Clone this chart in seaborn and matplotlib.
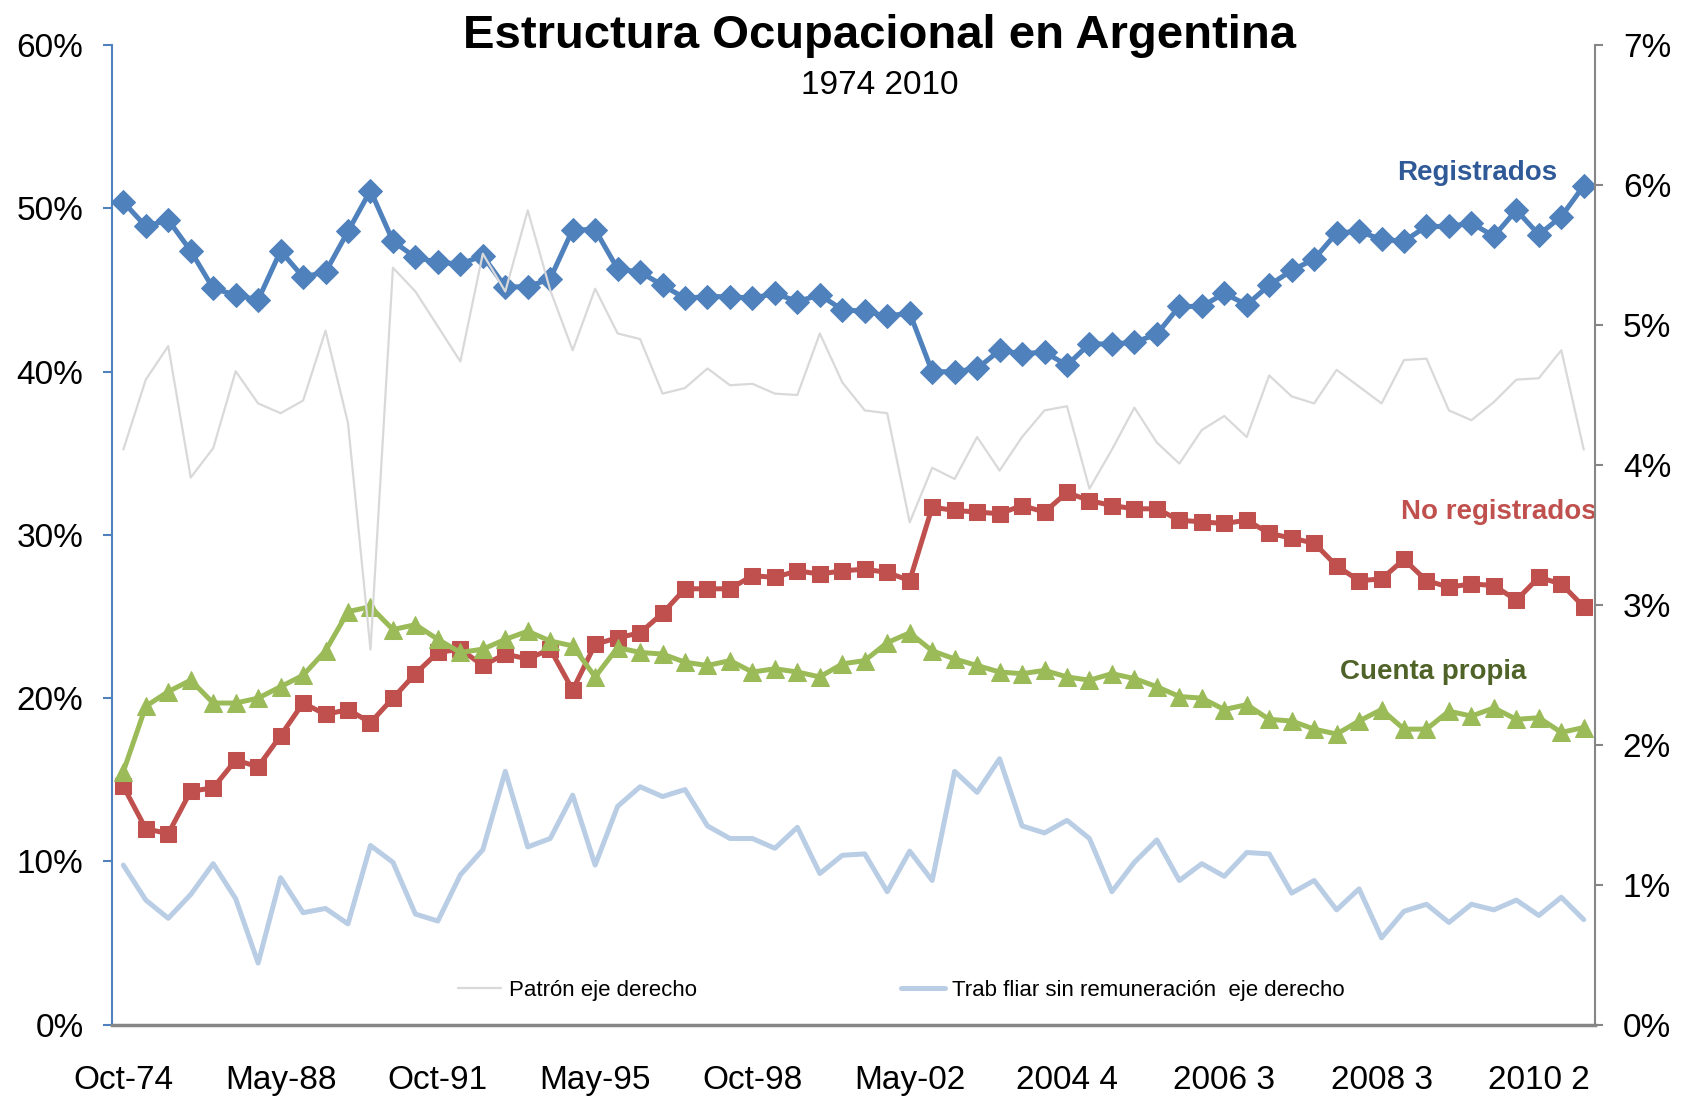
import numpy as np
import seaborn as sns
import matplotlib.pyplot as plt
from matplotlib.ticker import PercentFormatter

# periodos de la EPH (solo se rotula uno de cada siete)
periodos = [
    "Oct-74", "Oct-80", "Oct-82", "Oct-84", "Oct-85", "Oct-86", "Oct-87",
    "May-88", "Oct-88", "May-89", "Oct-89", "May-90", "Oct-90", "May-91",
    "Oct-91", "May-92", "Oct-92", "May-93", "Oct-93", "May-94", "Oct-94",
    "May-95", "Oct-95", "May-96", "Oct-96", "May-97", "Oct-97", "May-98",
    "Oct-98", "May-99", "Oct-99", "May-00", "Oct-00", "May-01", "Oct-01",
    "May-02", "Oct-02", "2003 3", "2003 4", "2004 1", "2004 2", "2004 3",
    "2004 4", "2005 1", "2005 2", "2005 3", "2005 4", "2006 1", "2006 2",
    "2006 3", "2006 4", "2007 1", "2007 2", "2007 4", "2008 1", "2008 2",
    "2008 3", "2008 4", "2009 1", "2009 2", "2009 3", "2009 4", "2010 1",
    "2010 2", "2010 3", "2010 4",
]

# eje izquierdo (%)
registrados = [
    50.4, 48.9, 49.3, 47.4, 45.1, 44.7, 44.4, 47.4, 45.8, 46.1,
    48.6, 51.1, 48.0, 47.0, 46.7, 46.6, 47.1, 45.2, 45.2, 45.7,
    48.7, 48.7, 46.3, 46.1, 45.3, 44.5, 44.6, 44.6, 44.5, 44.8,
    44.3, 44.7, 43.8, 43.7, 43.4, 43.6, 40.0, 40.0, 40.2, 41.3,
    41.1, 41.2, 40.4, 41.7, 41.7, 41.8, 42.3, 44.0, 44.0, 44.8,
    44.1, 45.3, 46.2, 46.9, 48.5, 48.6, 48.1, 48.0, 48.9, 48.9,
    49.1, 48.3, 49.9, 48.4, 49.5, 51.4,
]
no_registrados = [
    14.6, 12.0, 11.7, 14.3, 14.5, 16.2, 15.8, 17.7, 19.7, 19.0,
    19.3, 18.5, 20.0, 21.5, 22.8, 23.0, 22.0, 22.7, 22.4, 23.0,
    20.5, 23.3, 23.7, 24.0, 25.2, 26.7, 26.7, 26.7, 27.5, 27.4,
    27.8, 27.6, 27.8, 27.9, 27.7, 27.2, 31.7, 31.5, 31.4, 31.3,
    31.8, 31.4, 32.6, 32.1, 31.8, 31.6, 31.6, 30.9, 30.8, 30.7,
    30.9, 30.1, 29.8, 29.5, 28.1, 27.2, 27.3, 28.5, 27.2, 26.8,
    27.0, 26.9, 26.0, 27.4, 27.0, 25.6,
]
cuenta_propia = [
    15.5, 19.5, 20.4, 21.1, 19.7, 19.7, 20.0, 20.7, 21.4, 22.9,
    25.3, 25.6, 24.2, 24.5, 23.6, 22.8, 23.0, 23.6, 24.1, 23.5,
    23.2, 21.3, 23.1, 22.8, 22.7, 22.2, 22.0, 22.3, 21.6, 21.8,
    21.6, 21.3, 22.1, 22.3, 23.4, 24.0, 22.9, 22.4, 22.0, 21.6,
    21.5, 21.7, 21.3, 21.1, 21.5, 21.2, 20.7, 20.1, 20.0, 19.3,
    19.6, 18.7, 18.6, 18.1, 17.8, 18.6, 19.3, 18.1, 18.1, 19.2,
    18.9, 19.4, 18.7, 18.8, 17.9, 18.2,
]

# eje derecho (%)
patron = [
    4.11, 4.61, 4.85, 3.91, 4.12, 4.67, 4.44, 4.37, 4.46, 4.96,
    4.30, 2.68, 5.41, 5.24, 4.99, 4.74, 5.51, 5.24, 5.82, 5.25,
    4.82, 5.26, 4.94, 4.90, 4.51, 4.55, 4.69, 4.57, 4.58, 4.51,
    4.50, 4.94, 4.59, 4.39, 4.37, 3.59, 3.98, 3.90, 4.20, 3.96,
    4.20, 4.39, 4.42, 3.83, 4.11, 4.41, 4.16, 4.01, 4.25, 4.35,
    4.20, 4.64, 4.49, 4.44, 4.68, 4.56, 4.44, 4.75, 4.76, 4.39,
    4.32, 4.45, 4.61, 4.62, 4.82, 4.11,
]
trab_fliar = [
    1.14, 0.89, 0.76, 0.93, 1.15, 0.90, 0.44, 1.05, 0.80, 0.83,
    0.72, 1.28, 1.16, 0.79, 0.74, 1.07, 1.25, 1.81, 1.27, 1.33,
    1.64, 1.14, 1.56, 1.70, 1.63, 1.68, 1.42, 1.33, 1.33, 1.26,
    1.41, 1.08, 1.21, 1.22, 0.95, 1.24, 1.03, 1.81, 1.66, 1.90,
    1.42, 1.37, 1.46, 1.33, 0.95, 1.16, 1.32, 1.03, 1.15, 1.06,
    1.23, 1.22, 0.94, 1.03, 0.82, 0.97, 0.62, 0.81, 0.86, 0.73,
    0.86, 0.82, 0.89, 0.78, 0.91, 0.75,
]

sns.set_style("white")
plt.rcParams["font.family"] = ["Liberation Sans Narrow", "Liberation Sans", "DejaVu Sans"]
plt.rcParams["text.color"] = "black"
plt.rcParams["xtick.labelcolor"] = "black"
plt.rcParams["ytick.labelcolor"] = "black"

azul = "#4F81BD"
rojo = "#C0504D"
verde = "#9BBB59"
gris = "#868686"

x = np.arange(len(periodos))

fig = plt.figure(figsize=(16.88, 11.01), dpi=100)
ax = fig.add_axes([0.0664, 0.0694, 0.8785, 0.8895])
ax2 = ax.twinx()

sns.lineplot(x=x, y=registrados, ax=ax, color=azul, linewidth=3.6,
             marker="D", markersize=12, markeredgecolor=azul, legend=False)
sns.lineplot(x=x, y=no_registrados, ax=ax, color=rojo, linewidth=3.6,
             marker="s", markersize=12, markeredgecolor=rojo, legend=False)
sns.lineplot(x=x, y=cuenta_propia, ax=ax, color=verde, linewidth=3.6,
             marker="^", markersize=13, markeredgecolor=verde, legend=False)

sns.lineplot(x=x, y=patron, ax=ax2, color="#D9D9D9", linewidth=1.6,
             label="Patrón eje derecho")
sns.lineplot(x=x, y=trab_fliar, ax=ax2, color="#B9CDE5", linewidth=3.6,
             label="Trab fliar sin remuneración  eje derecho")

ax.set_xlim(-0.5, len(periodos) - 0.5)
ax.set_ylim(0, 60)
ax2.set_ylim(0, 7)
ax.set_yticks(range(0, 61, 10))
ax2.set_yticks(range(0, 8))
ax.yaxis.set_major_formatter(PercentFormatter(decimals=0))
ax2.yaxis.set_major_formatter(PercentFormatter(decimals=0))

ax.set_xticks(x[::7])
ax.set_xticklabels([periodos[i] for i in x[::7]])
ax.set_xticks(np.arange(-0.5, len(periodos), 1), minor=True)
ax.tick_params(axis="x", which="major", length=0, pad=29, labelsize=24)
ax.tick_params(axis="x", which="minor", length=7, width=1, color=gris, direction="out")
ax.tick_params(axis="y", length=6.5, width=1.5, color=azul, direction="out",
               labelsize=24, pad=14, left=True)
ax2.tick_params(axis="y", length=6, width=1.5, color=gris, direction="out",
                labelsize=24, pad=14, right=True)
ax.set_xlabel("")
ax.set_ylabel("")
ax2.set_ylabel("")

for a in (ax, ax2):
    a.spines["top"].set_visible(False)
ax.spines["right"].set_visible(False)
ax2.spines["left"].set_visible(False)
ax2.spines["bottom"].set_visible(False)
ax.spines["left"].set_color(azul)
ax.spines["left"].set_linewidth(1.5)
ax.spines["bottom"].set_color(gris)
ax.spines["bottom"].set_linewidth(2.5)
ax2.spines["right"].set_color(gris)
ax2.spines["right"].set_linewidth(1.5)

# etiquetas de series
ax.text(60.25, 52.2, "Registrados", color="#2F5A97", fontsize=20,
        fontweight="bold", ha="center", va="center")
ax.text(61.2, 31.4, "No registrados", color=rojo, fontsize=20,
        fontweight="bold", ha="center", va="center")
ax.text(58.3, 21.6, "Cuenta propia", color="#4F6228", fontsize=20,
        fontweight="bold", ha="center", va="center")

handles, labels = ax2.get_legend_handles_labels()
ax2.get_legend().remove()
fig.legend(handles, labels, loc="center", bbox_to_anchor=(0.534, 0.1008),
           ncol=2, frameon=False, fontsize=16, handlelength=1.95,
           handletextpad=0.34, columnspacing=9.2)

fig.text(0.521, 0.967, "Estructura Ocupacional en Argentina", ha="center",
         va="center", fontsize=34, fontweight="bold")
fig.text(0.521, 0.922, "1974 2010", ha="center", va="center", fontsize=24)

fig.savefig("out.png", dpi=100)
